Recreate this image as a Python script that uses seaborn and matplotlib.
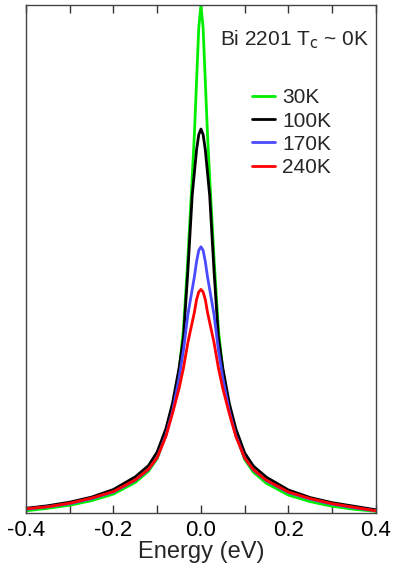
import numpy as np
import pandas as pd
import matplotlib
matplotlib.use('Agg')
import matplotlib.pyplot as plt
import seaborn as sns

# Energy grid (eV), denser around the peak
energy = [-0.40, -0.35, -0.30, -0.25, -0.20, -0.15, -0.12, -0.10, -0.08, -0.065,
          -0.05, -0.04, -0.03, -0.02, -0.015, -0.01, -0.005, 0.0, 0.005, 0.01,
          0.015, 0.02, 0.03, 0.04, 0.05, 0.065, 0.08, 0.10, 0.12, 0.15,
          0.20, 0.25, 0.30, 0.35, 0.40]

# Intensity (arb. units)
i_30k = [0.004, 0.009, 0.015, 0.024, 0.037, 0.060, 0.082, 0.107, 0.156, 0.205,
         0.280, 0.360, 0.500, 0.660, 0.745, 0.850, 0.955, 1.000, 0.955, 0.850,
         0.745, 0.660, 0.500, 0.360, 0.280, 0.205, 0.155, 0.105, 0.080, 0.058,
         0.035, 0.022, 0.013, 0.007, 0.003]
i_100k = [0.009, 0.014, 0.021, 0.031, 0.046, 0.071, 0.093, 0.120, 0.166, 0.216,
          0.285, 0.345, 0.475, 0.625, 0.670, 0.715, 0.745, 0.756, 0.745, 0.715,
          0.670, 0.625, 0.475, 0.345, 0.285, 0.215, 0.165, 0.118, 0.092, 0.070,
          0.045, 0.030, 0.020, 0.013, 0.006]
i_170k = [0.007, 0.012, 0.018, 0.028, 0.041, 0.064, 0.085, 0.109, 0.153, 0.200,
          0.265, 0.320, 0.390, 0.440, 0.465, 0.495, 0.517, 0.524, 0.517, 0.495,
          0.465, 0.440, 0.390, 0.320, 0.265, 0.200, 0.152, 0.108, 0.084, 0.063,
          0.040, 0.027, 0.017, 0.010, 0.004]
i_240k = [0.008, 0.012, 0.019, 0.029, 0.042, 0.065, 0.086, 0.109, 0.151, 0.196,
          0.245, 0.285, 0.335, 0.375, 0.395, 0.420, 0.435, 0.440, 0.435, 0.420,
          0.395, 0.375, 0.335, 0.285, 0.245, 0.195, 0.150, 0.108, 0.085, 0.064,
          0.041, 0.028, 0.018, 0.011, 0.004]

labels = ['30K', '100K', '170K', '240K']
colors = ['#00ee00', '#000000', '#4a4aff', '#ff0000']

df = pd.concat([
    pd.DataFrame({'Energy': energy, 'Intensity': vals, 'T': lab})
    for vals, lab in zip([i_30k, i_100k, i_170k, i_240k], labels)
])

sns.set_style('ticks')
plt.rcParams['font.family'] = ['Liberation Sans', 'DejaVu Sans']

fig = plt.figure(figsize=(3.94, 5.73), dpi=100)
ax = fig.add_axes([0.066, 0.105, 0.888, 0.886])

sns.lineplot(data=df, x='Energy', y='Intensity', hue='T', hue_order=labels,
             palette=colors, linewidth=2.0, estimator=None, sort=True, ax=ax)

ax.set_xlim(-0.4, 0.4)
ax.set_ylim(0, 1.0)
ax.set_xticks([-0.4, -0.2, 0.0, 0.2, 0.4])
ax.set_xticklabels(['-0.4', '-0.2', '0.0', '0.2', '0.4'])
ax.set_xticks([-0.3, -0.1, 0.1, 0.3], minor=True)
ax.set_yticks([])
ax.tick_params(axis='x', which='both', direction='in', top=True, length=6,
               width=1, labelsize=16, pad=5, colors='#333333', labelcolor='black')
for s in ax.spines.values():
    s.set_color('#444444')
    s.set_linewidth(1.0)
ax.set_xlabel('Energy (eV)', fontsize=17, labelpad=0)
ax.set_ylabel('')

ax.text(0.98, 0.921, r'Bi 2201 T$_\mathrm{c}$ ~ 0K', transform=ax.transAxes,
        ha='right', va='baseline', fontsize=15)

ax.legend(loc='upper left', bbox_to_anchor=(0.646, 0.836), frameon=False,
          fontsize=15, borderpad=0, borderaxespad=0, handlelength=1.1,
          handletextpad=0.35, labelspacing=0.2)

fig.savefig('out.png', dpi=100)
